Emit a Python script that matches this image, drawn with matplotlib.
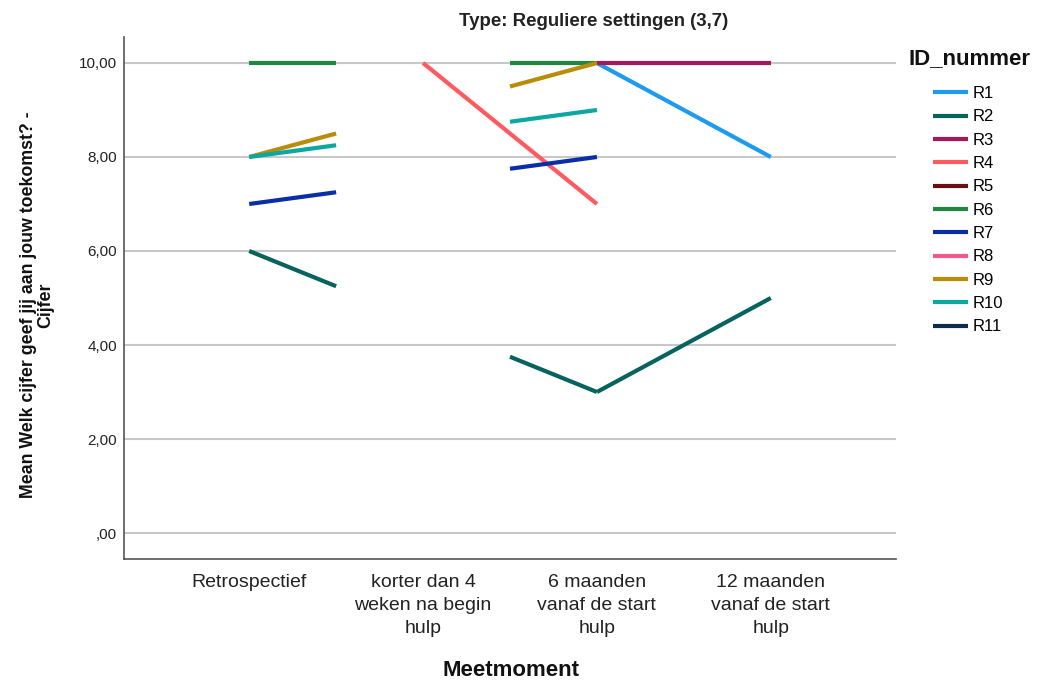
import matplotlib
matplotlib.use("Agg")
import matplotlib.pyplot as plt
import numpy as np

# data (nan = no value at that moment)
nan = np.nan
moments = ['Retrospectief', 'korter dan 4\nweken na begin\nhulp',
           '6 maanden\nvanaf de start\nhulp', '12 maanden\nvanaf de start\nhulp']
ids = ['R1', 'R2', 'R3', 'R4', 'R5', 'R6', 'R7', 'R8', 'R9', 'R10', 'R11']
R1 = [nan, nan, 10.0, 8.0]
R2 = [6.0, nan, 3.0, 5.0]
R3 = [nan, nan, 10.0, 10.0]
R4 = [nan, 10.0, 7.0, nan]
R5 = [nan, nan, nan, nan]
R6 = [10.0, nan, 10.0, nan]
R7 = [7.0, nan, 8.0, nan]
R8 = [nan, nan, nan, nan]
R9 = [8.0, nan, 10.0, nan]
R10 = [8.0, nan, 9.0, nan]
R11 = [nan, nan, nan, nan]
series = [R1, R2, R3, R4, R5, R6, R7, R8, R9, R10, R11]
colors = ['#1e9bef', '#07635d', '#a3195b', '#ff5a5f', '#6a0d14', '#1f873f',
          '#0a2ea6', '#f2588e', '#b88d0a', '#0ca7a0', '#0f2c4c']

plt.rcParams['font.family'] = ['Liberation Sans', 'DejaVu Sans']

fig = plt.figure(figsize=(10.37, 6.84), dpi=100)
ax = fig.add_axes([124 / 1037, 1 - 559 / 684, (896 - 124) / 1037, (559 - 37) / 684])

x = np.arange(len(moments))
handles = []
for name, vals, col in zip(ids, series, colors):
    vals = np.array(vals, dtype=float)
    ok = np.where(~np.isnan(vals))[0]
    kw = dict(color=col, lw=3, solid_capstyle='butt', solid_joinstyle='round')
    # consecutive points are joined; across a missing moment SPSS shows
    # only the first and last half-category of the interpolated line
    i = 0
    while i < len(ok) - 1:
        a, b = ok[i], ok[i + 1]
        if b == a + 1:
            j = i + 1
            while j < len(ok) - 1 and ok[j + 1] == ok[j] + 1:
                j += 1
            idx = ok[i:j + 1]
            ax.plot(x[idx], vals[idx], **kw)
            i = j
        else:
            slope = (vals[b] - vals[a]) / (b - a)
            ax.plot([a, a + 0.5], [vals[a], vals[a] + 0.5 * slope], **kw)
            ax.plot([b - 0.5, b], [vals[b] - 0.5 * slope, vals[b]], **kw)
            i += 1
    h, = ax.plot([], [], color=col, lw=3, solid_capstyle='butt', label=name)
    handles.append(h)

ax.set_xlim(-0.72, 3.72)
ax.set_ylim(-0.553, 10.553)
ax.set_xticks(x)
ax.set_xticklabels(moments, fontsize=14, color='#222222', linespacing=1.45)
yt = [0, 2, 4, 6, 8, 10]
ax.set_yticks(yt)
ax.set_yticklabels([(',00' if v == 0 else f'{v:.2f}'.replace('.', ',')) for v in yt],
                   fontsize=11, color='#222222')
ax.tick_params(axis='both', length=0)
ax.tick_params(axis='y', pad=5)
ax.tick_params(axis='x', pad=11)
ax.grid(axis='y', color='#c8c8c8', lw=1.5)
ax.set_axisbelow(True)
for s in ['top', 'right']:
    ax.spines[s].set_visible(False)
for s in ['left', 'bottom']:
    ax.spines[s].set_color('#555555')
    ax.spines[s].set_linewidth(1.2)

fig.text(594 / 1037, 1 - 21 / 684, 'Type: Reguliere settingen (3,7)', ha='center', va='center',
         fontsize=13.4, fontweight='bold', color='#222222')
fig.text(511 / 1037, 1 - 671 / 684, 'Meetmoment', ha='center', va='center',
         fontsize=16, fontweight='bold', color='#111111')
fig.text(37 / 1037, 1 - 305 / 684, 'Mean Welk cijfer geef jij aan jouw toekomst? -\nCijfer',
         ha='center', va='center', rotation=90, fontsize=12.8, fontweight='bold',
         linespacing=1.0, color='#111111')
fig.text(908 / 1037, 1 - 59 / 684, 'ID_nummer', ha='left', va='center',
         fontsize=16, fontweight='bold', color='#111111')

fig.legend(handles=handles, loc='upper left', bbox_to_anchor=(933 / 1037, 1 - 86 / 684),
           frameon=False, fontsize=12, handlelength=2.1, handletextpad=0.3,
           labelspacing=0.5, borderaxespad=0, borderpad=0)

fig.savefig('out.png', dpi=100)
